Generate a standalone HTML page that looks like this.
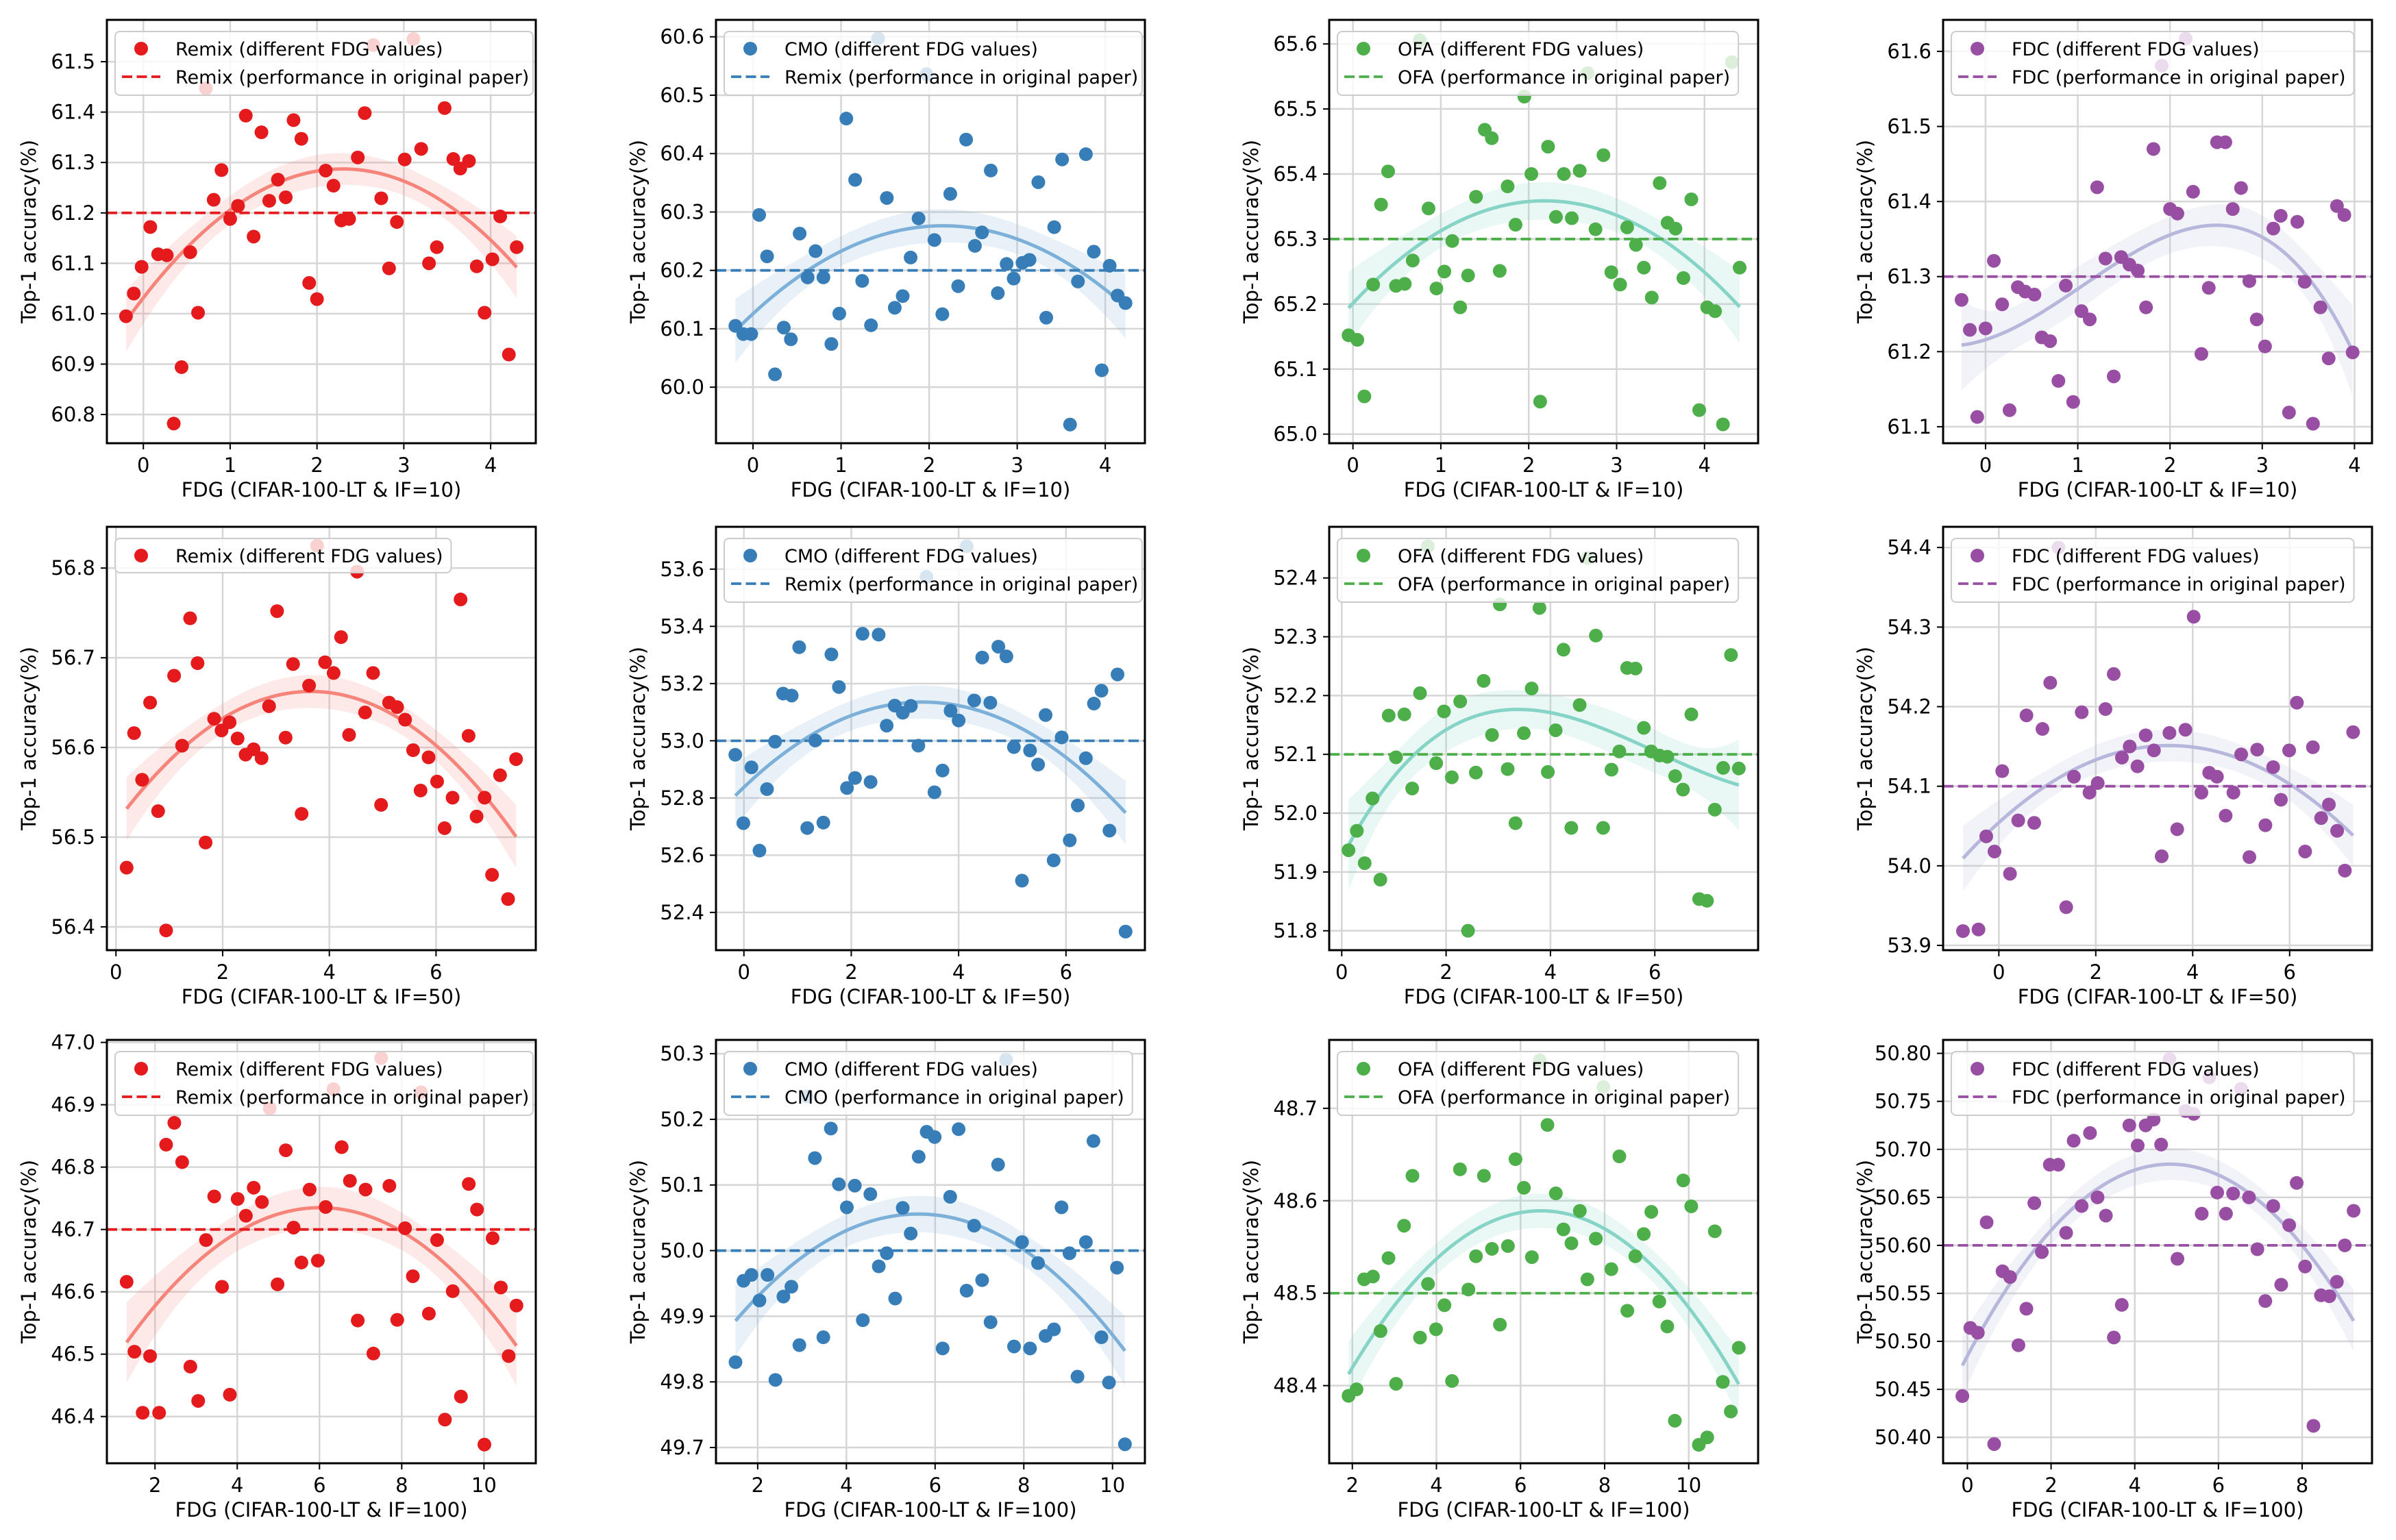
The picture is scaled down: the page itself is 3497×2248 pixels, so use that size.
<!DOCTYPE html>
<html><head><meta charset="utf-8"><title>FDG sensitivity</title>
<style>
html,body{margin:0;padding:0;background:#fff;}
svg{display:block;font-family:"DejaVu Sans","Liberation Sans",sans-serif;}
</style></head>
<body>
<svg id="fig" width="3497" height="2248" viewBox="0 0 3497 2248" xmlns="http://www.w3.org/2000/svg"></svg>
<script>
// ---------- data ----------
const remix10X=[-0.20,-0.11,-0.02,0.08,0.17,0.27,0.35,0.44,0.54,0.63,0.72,0.81,0.90,1.00,1.09,1.18,1.27,1.36,1.45,1.55,1.64,1.73,1.82,1.91,2.00,2.10,2.19,2.28,2.37,2.47,2.55,2.65,2.74,2.83,2.92,3.01,3.11,3.20,3.29,3.38,3.47,3.57,3.65,3.75,3.84,3.93,4.02,4.11,4.21,4.30];
const remix10Y=[60.995,61.04,61.093,61.172,61.118,61.116,60.782,60.894,61.122,61.002,61.447,61.226,61.285,61.188,61.214,61.393,61.153,61.360,61.224,61.266,61.231,61.384,61.347,61.061,61.029,61.284,61.254,61.185,61.188,61.310,61.398,61.533,61.229,61.090,61.182,61.306,61.545,61.327,61.100,61.132,61.408,61.307,61.288,61.303,61.094,61.002,61.108,61.193,60.919,61.132];
const cmo10X=[-0.20,-0.11,-0.02,0.07,0.16,0.25,0.35,0.43,0.53,0.62,0.71,0.80,0.89,0.98,1.06,1.16,1.24,1.34,1.42,1.52,1.61,1.70,1.79,1.88,1.97,2.06,2.15,2.24,2.33,2.42,2.52,2.60,2.70,2.78,2.88,2.96,3.06,3.14,3.24,3.33,3.42,3.51,3.60,3.69,3.78,3.87,3.96,4.05,4.14,4.23];
const cmo10Y=[60.105,60.091,60.091,60.295,60.224,60.022,60.102,60.082,60.263,60.188,60.233,60.188,60.074,60.126,60.460,60.355,60.182,60.106,60.597,60.324,60.136,60.156,60.222,60.289,60.536,60.252,60.125,60.331,60.173,60.424,60.242,60.265,60.371,60.161,60.211,60.186,60.213,60.218,60.351,60.119,60.274,60.390,59.936,60.181,60.399,60.232,60.029,60.208,60.157,60.144];
const ofa10X=[-0.05,0.05,0.13,0.23,0.32,0.40,0.49,0.59,0.68,0.76,0.86,0.95,1.04,1.13,1.22,1.31,1.40,1.50,1.58,1.67,1.76,1.85,1.95,2.03,2.13,2.22,2.31,2.40,2.49,2.58,2.67,2.76,2.85,2.94,3.04,3.12,3.22,3.31,3.40,3.49,3.58,3.67,3.76,3.85,3.94,4.03,4.12,4.21,4.31,4.40];
const ofa10Y=[65.152,65.145,65.058,65.230,65.353,65.404,65.228,65.231,65.267,65.606,65.347,65.224,65.250,65.297,65.195,65.244,65.365,65.468,65.455,65.251,65.381,65.322,65.519,65.400,65.050,65.442,65.334,65.400,65.332,65.405,65.555,65.315,65.429,65.249,65.230,65.318,65.291,65.256,65.210,65.386,65.325,65.316,65.240,65.361,65.037,65.195,65.189,65.015,65.572,65.256];
const fdc10X=[-0.26,-0.17,-0.09,0.00,0.09,0.18,0.26,0.35,0.43,0.53,0.61,0.70,0.79,0.87,0.95,1.04,1.13,1.21,1.30,1.39,1.47,1.56,1.65,1.74,1.82,1.91,2.00,2.08,2.17,2.25,2.34,2.42,2.51,2.60,2.68,2.77,2.86,2.94,3.03,3.12,3.20,3.29,3.38,3.46,3.55,3.63,3.72,3.81,3.89,3.98];
const fdc10Y=[61.269,61.229,61.113,61.231,61.321,61.263,61.122,61.286,61.280,61.276,61.219,61.214,61.161,61.288,61.133,61.254,61.243,61.419,61.324,61.167,61.326,61.316,61.308,61.259,61.470,61.581,61.390,61.384,61.617,61.413,61.197,61.285,61.479,61.479,61.390,61.418,61.294,61.243,61.207,61.364,61.381,61.119,61.373,61.293,61.104,61.259,61.191,61.394,61.382,61.199];
const remix50X=[0.20,0.34,0.49,0.64,0.79,0.94,1.09,1.24,1.39,1.53,1.68,1.84,1.98,2.13,2.28,2.43,2.58,2.73,2.87,3.02,3.18,3.32,3.48,3.62,3.77,3.92,4.08,4.22,4.37,4.52,4.67,4.82,4.97,5.12,5.27,5.42,5.57,5.71,5.86,6.02,6.16,6.31,6.46,6.61,6.76,6.91,7.05,7.20,7.35,7.50];
const remix50Y=[56.466,56.616,56.564,56.650,56.529,56.396,56.680,56.602,56.744,56.694,56.494,56.632,56.619,56.628,56.610,56.592,56.598,56.588,56.646,56.752,56.611,56.693,56.526,56.669,56.825,56.695,56.683,56.723,56.614,56.796,56.639,56.683,56.536,56.650,56.645,56.631,56.597,56.552,56.589,56.562,56.510,56.544,56.765,56.613,56.523,56.544,56.458,56.569,56.431,56.587];
const cmo50X=[-0.16,-0.01,0.14,0.29,0.43,0.58,0.73,0.89,1.03,1.18,1.33,1.48,1.63,1.77,1.92,2.07,2.21,2.36,2.51,2.66,2.81,2.96,3.11,3.25,3.40,3.55,3.70,3.85,4.00,4.15,4.29,4.44,4.59,4.74,4.89,5.03,5.18,5.33,5.48,5.62,5.77,5.92,6.07,6.22,6.37,6.52,6.66,6.81,6.96,7.11];
const cmo50Y=[52.951,52.712,52.907,52.616,52.831,52.997,53.165,53.158,53.327,52.695,53.001,52.714,53.302,53.188,52.835,52.870,53.374,52.856,53.371,53.053,53.123,53.098,53.122,52.983,53.573,52.820,52.896,53.105,53.071,53.680,53.141,53.291,53.133,53.329,53.295,52.978,52.511,52.966,52.917,53.090,52.582,53.012,52.652,52.774,52.939,53.130,53.175,52.686,53.232,52.333];
const ofa50X=[0.13,0.29,0.44,0.59,0.74,0.90,1.04,1.20,1.35,1.50,1.65,1.81,1.96,2.11,2.27,2.42,2.57,2.72,2.88,3.03,3.18,3.33,3.49,3.64,3.79,3.95,4.10,4.25,4.40,4.56,4.71,4.87,5.01,5.17,5.32,5.47,5.63,5.79,5.93,6.09,6.24,6.39,6.54,6.70,6.85,7.00,7.15,7.31,7.46,7.61];
const ofa50Y=[51.937,51.970,51.915,52.025,51.887,52.166,52.095,52.168,52.042,52.204,52.454,52.085,52.173,52.061,52.190,51.800,52.069,52.225,52.133,52.355,52.075,51.983,52.136,52.212,52.349,52.070,52.141,52.278,51.975,52.184,52.434,52.302,51.975,52.074,52.105,52.247,52.246,52.145,52.105,52.098,52.096,52.063,52.040,52.168,51.854,51.851,52.006,52.077,52.269,52.076];
const fdc50X=[-0.74,-0.42,-0.26,-0.09,0.07,0.23,0.40,0.57,0.73,0.90,1.06,1.23,1.39,1.55,1.71,1.87,2.04,2.20,2.37,2.54,2.70,2.86,3.03,3.20,3.36,3.52,3.68,3.85,4.02,4.18,4.34,4.50,4.68,4.84,5.00,5.17,5.33,5.50,5.66,5.82,5.99,6.15,6.32,6.48,6.65,6.81,6.98,7.14,7.31];
const fdc50Y=[53.918,53.920,54.037,54.018,54.119,53.990,54.057,54.189,54.054,54.172,54.230,54.400,53.948,54.112,54.193,54.092,54.104,54.197,54.241,54.136,54.150,54.125,54.164,54.145,54.012,54.167,54.046,54.171,54.313,54.092,54.117,54.112,54.063,54.092,54.140,54.011,54.146,54.051,54.124,54.083,54.145,54.205,54.018,54.149,54.060,54.077,54.044,53.994,54.168];
const remix100X=[1.31,1.50,1.70,1.88,2.10,2.27,2.47,2.66,2.86,3.05,3.24,3.44,3.63,3.82,4.01,4.21,4.40,4.60,4.79,4.98,5.18,5.37,5.56,5.76,5.96,6.15,6.34,6.54,6.74,6.93,7.12,7.31,7.50,7.70,7.89,8.08,8.27,8.47,8.66,8.86,9.05,9.24,9.44,9.63,9.83,10.01,10.21,10.41,10.60,10.79];
const remix100Y=[46.616,46.504,46.406,46.497,46.406,46.836,46.871,46.808,46.480,46.425,46.683,46.753,46.608,46.435,46.749,46.722,46.767,46.744,46.894,46.612,46.827,46.703,46.647,46.764,46.650,46.736,46.925,46.832,46.778,46.554,46.764,46.501,46.975,46.770,46.555,46.702,46.625,46.920,46.565,46.683,46.395,46.601,46.432,46.773,46.732,46.355,46.686,46.607,46.497,46.578];
const cmo100X=[1.50,1.68,1.86,2.04,2.22,2.40,2.58,2.76,2.94,3.11,3.29,3.48,3.65,3.83,4.01,4.19,4.37,4.54,4.73,4.91,5.10,5.27,5.45,5.63,5.81,5.99,6.17,6.34,6.53,6.71,6.88,7.06,7.25,7.42,7.60,7.78,7.96,8.14,8.32,8.49,8.68,8.85,9.03,9.21,9.40,9.57,9.75,9.92,10.10,10.28];
const cmo100Y=[49.830,49.954,49.963,49.924,49.963,49.803,49.930,49.945,49.856,50.235,50.141,49.868,50.186,50.101,50.066,50.099,49.894,50.086,49.976,49.996,49.927,50.065,50.026,50.143,50.181,50.173,49.851,50.082,50.185,49.939,50.038,49.955,49.891,50.131,50.291,49.854,50.013,49.851,49.981,49.870,49.880,50.066,49.996,49.808,50.013,50.167,49.868,49.799,49.974,49.705];
const ofa100X=[1.91,2.10,2.28,2.49,2.67,2.86,3.04,3.23,3.43,3.61,3.80,3.99,4.19,4.37,4.56,4.76,4.94,5.13,5.32,5.51,5.70,5.88,6.08,6.27,6.46,6.64,6.84,7.02,7.21,7.41,7.59,7.79,7.97,8.16,8.35,8.54,8.73,8.93,9.11,9.30,9.49,9.67,9.87,10.06,10.24,10.44,10.62,10.81,11.00,11.19];
const ofa100Y=[48.389,48.396,48.515,48.518,48.459,48.538,48.402,48.573,48.627,48.452,48.510,48.461,48.487,48.405,48.634,48.504,48.540,48.627,48.548,48.466,48.551,48.645,48.614,48.539,48.752,48.682,48.608,48.569,48.554,48.589,48.515,48.559,48.723,48.526,48.648,48.481,48.540,48.564,48.588,48.491,48.464,48.362,48.622,48.594,48.336,48.344,48.567,48.404,48.372,48.441];
const fdc100X=[-0.12,0.07,0.25,0.46,0.64,0.84,1.02,1.22,1.41,1.60,1.78,1.97,2.17,2.36,2.54,2.73,2.93,3.11,3.31,3.50,3.69,3.87,4.07,4.26,4.45,4.63,4.83,5.02,5.21,5.41,5.60,5.78,5.97,6.18,6.35,6.54,6.73,6.93,7.12,7.31,7.50,7.69,7.87,8.07,8.27,8.45,8.65,8.83,9.02,9.23];
const fdc100Y=[50.443,50.514,50.509,50.624,50.393,50.573,50.567,50.496,50.534,50.644,50.593,50.684,50.684,50.613,50.709,50.641,50.717,50.650,50.631,50.504,50.538,50.725,50.704,50.725,50.731,50.705,50.794,50.586,50.740,50.737,50.633,50.775,50.655,50.633,50.654,50.763,50.650,50.596,50.542,50.641,50.559,50.621,50.665,50.578,50.412,50.548,50.547,50.562,50.600,50.636];

// tick labels
const xTicksIF10=[0,1,2,3,4];
const xTicksIF50=[0,2,4,6];
const xTicksIF100=[2,4,6,8,10];
const xTicksFDC100=[0,2,4,6,8];
const yTicksRemix10=[60.8,60.9,61.0,61.1,61.2,61.3,61.4,61.5];
const yTicksCmo10=[60.0,60.1,60.2,60.3,60.4,60.5,60.6];
const yTicksOfa10=[65.0,65.1,65.2,65.3,65.4,65.5,65.6];
const yTicksFdc10=[61.1,61.2,61.3,61.4,61.5,61.6];
const yTicksRemix50=[56.4,56.5,56.6,56.7,56.8];
const yTicksCmo50=[52.4,52.6,52.8,53.0,53.2,53.4,53.6];
const yTicksOfa50=[51.8,51.9,52.0,52.1,52.2,52.3,52.4];
const yTicksFdc50=[53.9,54.0,54.1,54.2,54.3,54.4];
const yTicksRemix100=[46.4,46.5,46.6,46.7,46.8,46.9,47.0];
const yTicksCmo100=[49.7,49.8,49.9,50.0,50.1,50.2,50.3];
const yTicksOfa100=[48.4,48.5,48.6,48.7];
const yTicksFdc100=[50.40,50.45,50.50,50.55,50.60,50.65,50.70,50.75,50.80];
// reference (original paper) values
const baselines=[61.2,60.2,65.3,61.3,null,53.0,52.1,54.1,46.7,50.0,48.5,50.6];

// ---------- styling ----------
const methodStyle={
  remix:{pt:'#e41a1c',fit:'#f6847b'},
  cmo:{pt:'#377eb8',fit:'#7db0d8'},
  ofa:{pt:'#4daf4a',fit:'#86d4c6'},
  fdc:{pt:'#984ea3',fit:'#b7b6db'}
};
const colLeft=[156,1045,1940,2836], rowTop=[29,769,1518], PW=626, PH=618;

const panels=[
 {m:'remix',x:remix10X,y:remix10Y,xlim:[-0.42,4.52],ylim:[60.743,61.583],xt:xTicksIF10,yt:yTicksRemix10,dec:1,ord:2,l1:'Remix (different FDG values)',l2:'Remix (performance in original paper)',xl:'FDG (CIFAR-100-LT & IF=10)'},
 {m:'cmo',x:cmo10X,y:cmo10Y,xlim:[-0.42,4.45],ylim:[59.904,60.629],xt:xTicksIF10,yt:yTicksCmo10,dec:1,ord:2,l1:'CMO (different FDG values)',l2:'Remix (performance in original paper)',xl:'FDG (CIFAR-100-LT & IF=10)'},
 {m:'ofa',x:ofa10X,y:ofa10Y,xlim:[-0.27,4.61],ylim:[64.986,65.637],xt:xTicksIF10,yt:yTicksOfa10,dec:1,ord:2,l1:'OFA (different FDG values)',l2:'OFA (performance in original paper)',xl:'FDG (CIFAR-100-LT & IF=10)'},
 {m:'fdc',x:fdc10X,y:fdc10Y,xlim:[-0.46,4.19],ylim:[61.078,61.642],xt:xTicksIF10,yt:yTicksFdc10,dec:1,ord:3,l1:'FDC (different FDG values)',l2:'FDC (performance in original paper)',xl:'FDG (CIFAR-100-LT & IF=10)'},
 {m:'remix',x:remix50X,y:remix50Y,xlim:[-0.17,7.87],ylim:[56.374,56.846],xt:xTicksIF50,yt:yTicksRemix50,dec:1,ord:2,l1:'Remix (different FDG values)',l2:null,xl:'FDG (CIFAR-100-LT & IF=50)'},
 {m:'cmo',x:cmo50X,y:cmo50Y,xlim:[-0.52,7.47],ylim:[52.268,53.748],xt:xTicksIF50,yt:yTicksCmo50,dec:1,ord:2,l1:'CMO (different FDG values)',l2:'Remix (performance in original paper)',xl:'FDG (CIFAR-100-LT & IF=50)'},
 {m:'ofa',x:ofa50X,y:ofa50Y,xlim:[-0.24,7.98],ylim:[51.767,52.487],xt:xTicksIF50,yt:yTicksOfa50,dec:1,ord:3,l1:'OFA (different FDG values)',l2:'OFA (performance in original paper)',xl:'FDG (CIFAR-100-LT & IF=50)'},
 {m:'fdc',x:fdc50X,y:fdc50Y,xlim:[-1.15,7.70],ylim:[53.894,54.426],xt:xTicksIF50,yt:yTicksFdc50,dec:1,ord:2,l1:'FDC (different FDG values)',l2:'FDC (performance in original paper)',xl:'FDG (CIFAR-100-LT & IF=50)'},
 {m:'remix',x:remix100X,y:remix100Y,xlim:[0.83,11.26],ylim:[46.325,47.004],xt:xTicksIF100,yt:yTicksRemix100,dec:1,ord:2,l1:'Remix (different FDG values)',l2:'Remix (performance in original paper)',xl:'FDG (CIFAR-100-LT & IF=100)'},
 {m:'cmo',x:cmo100X,y:cmo100Y,xlim:[1.06,10.73],ylim:[49.676,50.321],xt:xTicksIF100,yt:yTicksCmo100,dec:1,ord:2,l1:'CMO (different FDG values)',l2:'CMO (performance in original paper)',xl:'FDG (CIFAR-100-LT & IF=100)'},
 {m:'ofa',x:ofa100X,y:ofa100Y,xlim:[1.45,11.65],ylim:[48.316,48.774],xt:xTicksIF100,yt:yTicksOfa100,dec:1,ord:2,l1:'OFA (different FDG values)',l2:'OFA (performance in original paper)',xl:'FDG (CIFAR-100-LT & IF=100)'},
 {m:'fdc',x:fdc100X,y:fdc100Y,xlim:[-0.58,9.67],ylim:[50.373,50.814],xt:xTicksFDC100,yt:yTicksFdc100,dec:2,ord:2,l1:'FDC (different FDG values)',l2:'FDC (performance in original paper)',xl:'FDG (CIFAR-100-LT & IF=100)'}
];

// ---------- helpers ----------
const NS='http://www.w3.org/2000/svg';
const svg=document.getElementById('fig');
function mk(tag,parent,attrs){const e=document.createElementNS(NS,tag);for(const k in attrs)e.setAttribute(k,attrs[k]);parent.appendChild(e);return e;}

function invert(A){const n=A.length;const M=A.map((r,i)=>r.concat(Array.from({length:n},(_,j)=>i===j?1:0)));
  for(let c=0;c<n;c++){let p=c;for(let r=c+1;r<n;r++)if(Math.abs(M[r][c])>Math.abs(M[p][c]))p=r;[M[c],M[p]]=[M[p],M[c]];
    const d=M[c][c];for(let j=0;j<2*n;j++)M[c][j]/=d;
    for(let r=0;r<n;r++)if(r!==c){const f=M[r][c];for(let j=0;j<2*n;j++)M[r][j]-=f*M[c][j];}}
  return M.map(r=>r.slice(n));}
function polyFit(xs,ys,ord){const n=ord+1;const XtX=Array.from({length:n},()=>Array(n).fill(0));const Xty=Array(n).fill(0);
  for(let i=0;i<xs.length;i++){const v=[];for(let k=0;k<n;k++)v.push(Math.pow(xs[i],k));
    for(let a=0;a<n;a++){Xty[a]+=v[a]*ys[i];for(let b=0;b<n;b++)XtX[a][b]+=v[a]*v[b];}}
  const inv=invert(XtX);const beta=inv.map(r=>r.reduce((s,v,j)=>s+v*Xty[j],0));
  let rss=0;for(let i=0;i<xs.length;i++){let f=0;for(let k=0;k<n;k++)f+=beta[k]*Math.pow(xs[i],k);rss+=(ys[i]-f)**2;}
  const s=Math.sqrt(rss/Math.max(1,xs.length-n));
  return {pred:(x)=>{const v=[];for(let k=0;k<n;k++)v.push(Math.pow(x,k));let f=0,h=0;for(let a=0;a<n;a++){f+=beta[a]*v[a];for(let b=0;b<n;b++)h+=v[a]*inv[a][b]*v[b];}return [f,1.1*s*Math.sqrt(h)];}};}

// ---------- draw ----------
panels.forEach((P,i)=>{
  const L=colLeft[i%4], T=rowTop[Math.floor(i/4)], R=L+PW, B=T+PH;
  const st=methodStyle[P.m];
  const sx=v=>L+(v-P.xlim[0])/(P.xlim[1]-P.xlim[0])*PW;
  const sy=v=>B-(v-P.ylim[0])/(P.ylim[1]-P.ylim[0])*PH;
  const g=mk('g',svg,{});
  
  
  const cid='clip'+i;
  const cp=mk('clipPath',g,{id:cid});mk('rect',cp,{x:L,y:T,width:PW,height:PH});
  const grid=mk('g',g,{stroke:'#d6d6d6','stroke-width':2.5});
  
  
  P.xt.forEach(t=>mk('line',grid,{x1:sx(t),x2:sx(t),y1:T,y2:B}));
  P.yt.forEach(t=>mk('line',grid,{x1:L,x2:R,y1:sy(t),y2:sy(t)}));
  const plot=mk('g',g,{'clip-path':'url(#'+cid+')'});
  const fit=polyFit(P.x,P.y,P.ord);
  const xmin=Math.min(...P.x), xmax=Math.max(...P.x);
  const up=[],lo=[],mid=[];
  for(let k=0;k<=80;k++){const xv=xmin+(xmax-xmin)*k/80;const [f,e]=fit.pred(xv);mid.push(sx(xv)+','+sy(f));up.push(sx(xv)+','+sy(f+e));lo.unshift(sx(xv)+','+sy(f-e));}
  const band=mk('polygon',plot,{points:up.concat(lo).join(' '),fill:st.fit,'fill-opacity':0.18,stroke:'none'});
  
  
  const curve=mk('polyline',plot,{points:mid.join(' '),fill:'none',stroke:st.fit,'stroke-width':5});
  
  
  if(baselines[i]!==null){
    const bl=mk('line',plot,{x1:L,x2:R,y1:sy(baselines[i]),y2:sy(baselines[i]),stroke:st.pt,'stroke-width':3.8,'stroke-dasharray':'15 6.5'});
    
    
  }
  const pts=mk('g',plot,{fill:st.pt});
  
  
  P.x.forEach((xv,k)=>{const c=mk('circle',pts,{cx:sx(xv),cy:sy(P.y[k]),r:10});
    
    });
  const fr=mk('rect',g,{x:L,y:T,width:PW,height:PH,fill:'none',stroke:'#000','stroke-width':3});
  
  
  P.xt.forEach(t=>{mk('line',g,{x1:sx(t),x2:sx(t),y1:B,y2:B+9,stroke:'#000','stroke-width':2});
    const tx=mk('text',g,{x:sx(t),y:B+42,'font-size':29,'text-anchor':'middle',fill:'#000'});tx.textContent=String(t);
    
    });
  P.yt.forEach(t=>{mk('line',g,{x1:L-9,x2:L,y1:sy(t),y2:sy(t),stroke:'#000','stroke-width':2});
    const ty=mk('text',g,{x:L-17,y:sy(t)+10,'font-size':29,'text-anchor':'end',fill:'#000'});ty.textContent=t.toFixed(P.dec);
    
    });
  const xl=mk('text',g,{x:(L+R)/2,y:B+78,'font-size':29,'text-anchor':'middle',fill:'#000'});xl.textContent=P.xl;
  
  
  const yx=L-104, yy=(T+B)/2;
  const yl=mk('text',g,{x:yx,y:yy,'font-size':29,'text-anchor':'middle',fill:'#000',transform:'rotate(-90 '+yx+' '+yy+')'});yl.textContent='Top-1 accuracy(%)';
  
  
  const lg=mk('g',g,{});
  
  
  const lx=L+12, ly=T+17, rows=P.l2?2:1, lh=rows===2?93:50;
  const box=mk('rect',lg,{x:lx,y:ly,width:100,height:lh,rx:7,fill:'#fff','fill-opacity':0.8,stroke:'#cccccc','stroke-width':2});
  const d1=mk('circle',lg,{cx:lx+38,cy:ly+25,r:10,fill:st.pt});
  
  
  const t1=mk('text',lg,{x:lx+88,y:ly+35,'font-size':27,fill:'#000'});t1.textContent=P.l1;
  
  
  let w=t1.getComputedTextLength();
  if(P.l2){
    const d2=mk('line',lg,{x1:lx+10,x2:lx+66,y1:ly+66,y2:ly+66,stroke:st.pt,'stroke-width':3.8,'stroke-dasharray':'15 6.5'});
    
    
    const t2=mk('text',lg,{x:lx+88,y:ly+76,'font-size':27,fill:'#000'});t2.textContent=P.l2;
    
    
    w=Math.max(w,t2.getComputedTextLength());
  }
  box.setAttribute('width',Math.min(PW-16,88+w+12));
});
</script>
</body></html>
